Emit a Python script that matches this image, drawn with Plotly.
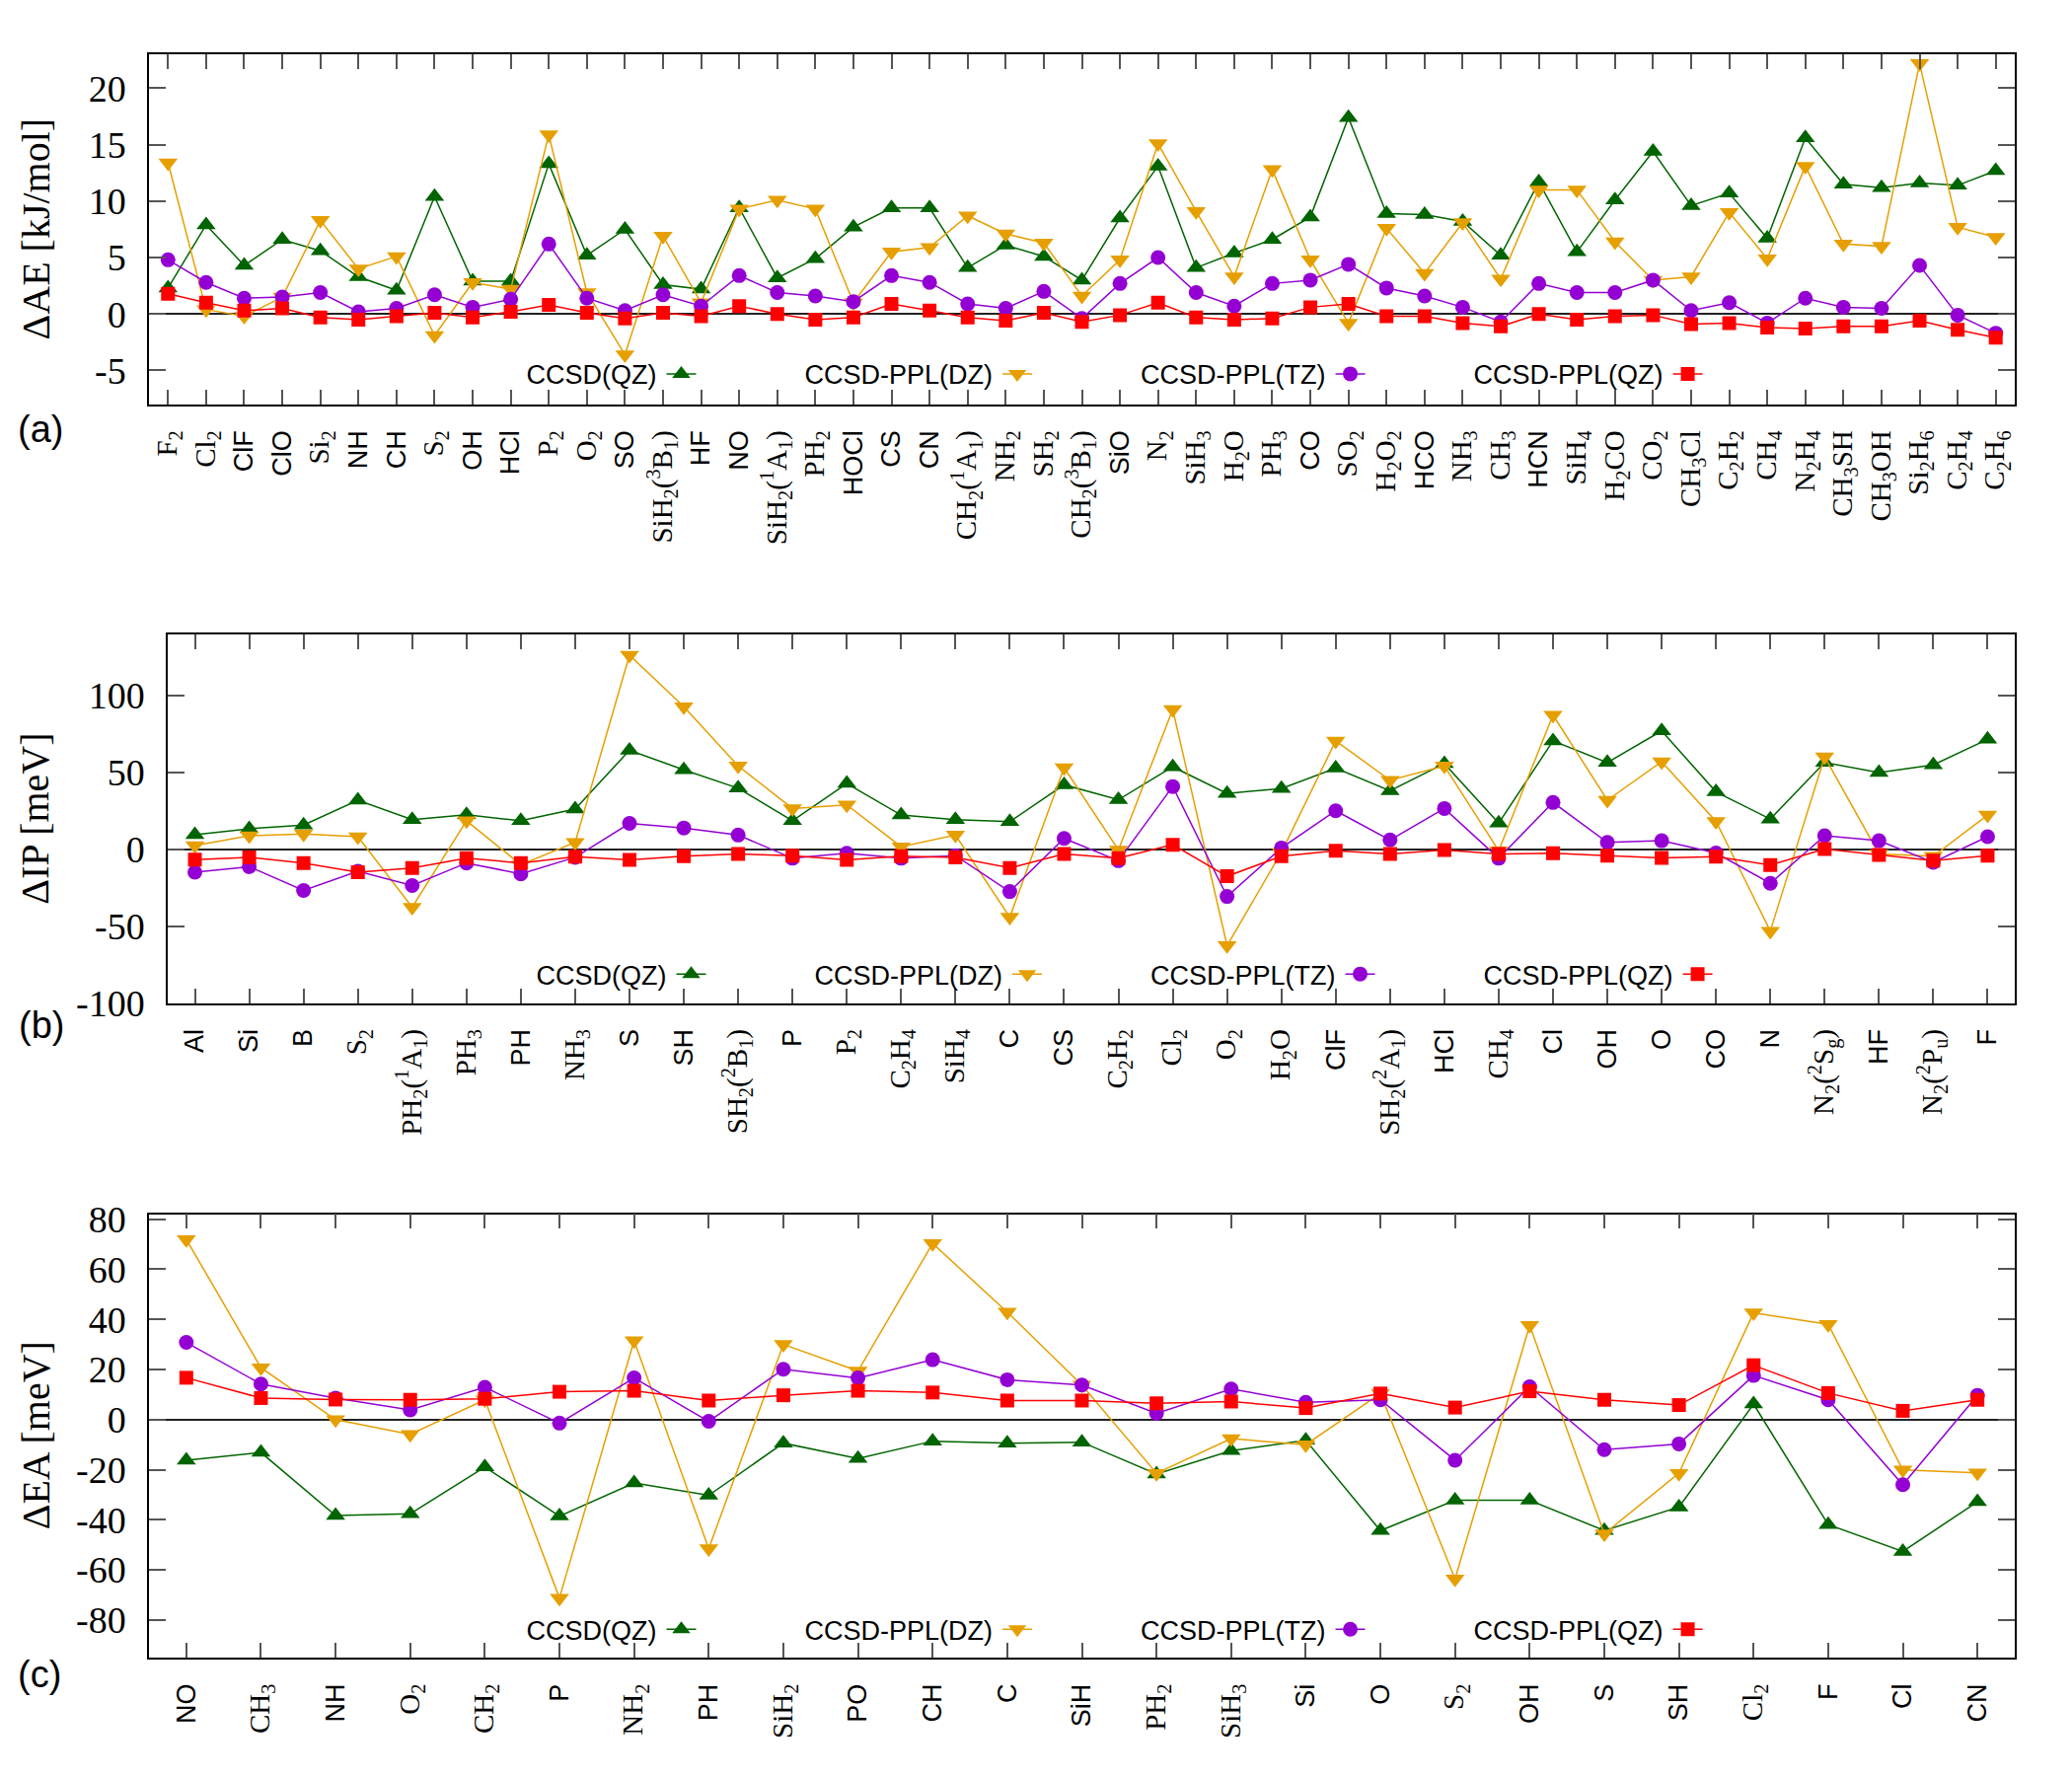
import re
import plotly.graph_objects as go

SANS = "Liberation Sans"
SERIF = "Liberation Serif"

series_names = ["CCSD(QZ)", "CCSD-PPL(DZ)", "CCSD-PPL(TZ)", "CCSD-PPL(QZ)"]
colors = ["#006400", "#E69F00", "#9400D3", "#FF0000"]
symbols = ["triangle-up", "triangle-down", "circle", "square"]
msizes = [17, 17, 15, 14]

# ---------------- (a) atomization energies ----------------
ae_labels = ["F_2", "Cl_2", "ClF", "ClO", "Si_2", "NH", "CH", "S_2", "OH", "HCl",
             "P_2", "O_2", "SO", "SiH_2(^3B_1)", "HF", "NO", "SiH_2(^1A_1)", "PH_2", "HOCl", "CS",
             "CN", "CH_2(^1A_1)", "NH_2", "SH_2", "CH_2(^3B_1)", "SiO", "N_2", "SiH_3", "H_2O", "PH_3",
             "CO", "SO_2", "H_2O_2", "HCO", "NH_3", "CH_3", "HCN", "SiH_4", "H_2CO", "CO_2",
             "CH_3Cl", "C_2H_2", "CH_4", "N_2H_4", "CH_3SH", "CH_3OH", "Si_2H_6", "C_2H_4", "C_2H_6"]
ae_ccsd_qz = [2.3, 7.9, 4.3, 6.6, 5.6, 3.3, 2.1, 10.4, 2.9, 2.9,
              13.3, 5.2, 7.5, 2.6, 2.2, 9.4, 3.2, 4.9, 7.7, 9.4,
              9.4, 4.1, 6.1, 5.1, 3.0, 8.5, 13.1, 4.1, 5.4, 6.6,
              8.6, 17.4, 8.9, 8.8, 8.2, 5.2, 11.7, 5.5, 10.1, 14.4,
              9.6, 10.7, 6.7, 15.6, 11.5, 11.2, 11.6, 11.4, 12.7]
ae_ppl_dz = [13.4, 0.4, -0.2, 1.5, 8.3, 4.0, 5.1, -1.9, 2.8, 2.2,
             15.9, 1.9, -3.6, 6.9, 1.0, 9.3, 10.1, 9.3, 1.0, 5.5,
             5.9, 8.7, 7.1, 6.3, 1.6, 4.8, 15.1, 9.1, 3.3, 12.8,
             4.8, -0.8, 7.6, 3.6, 8.1, 3.1, 11.0, 11.0, 6.4, 3.0,
             3.3, 9.0, 4.9, 13.1, 6.2, 6.0, 22.2, 7.7, 6.8]
ae_ppl_tz = [4.8, 2.8, 1.4, 1.5, 1.9, 0.2, 0.5, 1.7, 0.6, 1.3,
             6.2, 1.4, 0.3, 1.7, 0.7, 3.4, 1.9, 1.6, 1.1, 3.4,
             2.8, 0.9, 0.5, 2.0, -0.4, 2.7, 5.0, 1.9, 0.7, 2.7,
             3.0, 4.4, 2.3, 1.6, 0.6, -0.7, 2.7, 1.9, 1.9, 3.0,
             0.3, 1.0, -0.8, 1.4, 0.6, 0.5, 4.3, -0.1, -1.7]
ae_ppl_qz = [1.8, 1.0, 0.3, 0.5, -0.3, -0.5, -0.2, 0.1, -0.3, 0.2,
             0.8, 0.1, -0.4, 0.1, -0.2, 0.7, 0.0, -0.5, -0.3, 0.9,
             0.3, -0.3, -0.6, 0.1, -0.7, -0.1, 1.0, -0.3, -0.5, -0.4,
             0.6, 0.9, -0.2, -0.2, -0.8, -1.1, 0.0, -0.5, -0.2, -0.1,
             -0.9, -0.8, -1.2, -1.3, -1.1, -1.1, -0.6, -1.4, -2.1]
ae_yticks = [-5, 0, 5, 10, 15, 20]

# ---------------- (b) ionization potentials ----------------
ip_labels = ["Al", "Si", "B", "S_2", "PH_2(^1A_1)", "PH_3", "PH", "NH_3", "S", "SH",
             "SH_2(^2B_1)", "P", "P_2", "C_2H_4", "SiH_4", "C", "CS", "C_2H_2", "Cl_2", "O_2",
             "H_2O", "ClF", "SH_2(^2A_1)", "HCl", "CH_4", "Cl", "OH", "O", "CO", "N",
             "N_2(^2S_g)", "HF", "N_2(^2P_u)", "F"]
ip_ccsd_qz = [9.5, 13.4, 15.8, 32.0, 19.3, 22.5, 18.6, 26.2, 64.5, 51.7,
              39.8, 18.6, 42.9, 22.3, 19.3, 18.0, 42.0, 32.3, 53.7, 36.4,
              39.6, 52.8, 38.1, 55.8, 17.1, 70.6, 56.5, 77.1, 37.4, 19.7,
              56.5, 50.0, 55.0, 71.6]
ip_ppl_dz = [2.4, 8.9, 10.0, 8.2, -37.7, 18.6, -10.0, 4.5, 126.4, 92.9,
             54.3, 26.6, 29.0, 1.7, 9.3, -44.2, 53.2, -0.4, 91.1, -62.6,
             -2.0, 70.6, 45.0, 54.3, -0.9, 87.4, 32.0, 57.1, 18.2, -53.2,
             60.2, -3.0, -4.5, 22.3]
ip_ppl_tz = [-14.9, -11.3, -26.8, -14.3, -23.6, -8.9, -16.0, -5.2, 16.9, 13.9,
             9.3, -5.8, -2.6, -5.8, -4.1, -27.5, 7.1, -7.4, 40.9, -30.7,
             0.9, 25.1, 6.1, 26.6, -5.8, 30.5, 4.5, 5.6, -2.4, -22.1,
             8.9, 5.6, -8.4, 8.2]
ip_ppl_qz = [-6.7, -5.2, -8.9, -14.9, -12.1, -5.8, -8.9, -4.8, -6.9, -4.5,
             -3.0, -4.1, -6.9, -4.5, -5.2, -12.1, -3.0, -5.8, 3.0, -17.5,
             -4.5, -0.9, -3.0, -0.4, -3.0, -2.6, -4.1, -5.6, -4.8, -10.2,
             0.2, -3.7, -7.4, -4.1]
ip_yticks = [-100, -50, 0, 50, 100]

# ---------------- (c) electron affinities ----------------
ea_labels = ["NO", "CH_3", "NH", "O_2", "CH_2", "P", "NH_2", "PH", "SiH_2", "PO",
             "CH", "C", "SiH", "PH_2", "SiH_3", "Si", "O", "S_2", "OH", "S",
             "SH", "Cl_2", "F", "Cl", "CN"]
ea_ccsd_qz = [-16.2, -13.1, -38.3, -37.6, -18.9, -38.5, -25.3, -30.2, -9.4, -15.5,
              -8.6, -9.4, -9.0, -21.7, -12.4, -8.3, -44.3, -32.2, -32.2, -44.3,
              -34.9, 6.2, -41.9, -52.6, -32.8]
ea_ppl_dz = [71.9, 20.7, 0.0, -5.9, 7.9, -71.2, 31.5, -51.5, 30.0, 19.4,
             70.3, 42.9, 13.8, -21.4, -7.6, -10.0, 10.4, -63.6, 37.6, -45.6,
             -21.4, 42.6, 38.0, -20.1, -21.2]
ea_ppl_tz = [30.8, 14.2, 8.6, 3.9, 12.9, -1.4, 16.6, -0.7, 20.1, 16.6,
             23.9, 15.9, 13.8, 2.5, 12.2, 6.9, 7.9, -16.2, 13.1, -12.0,
             -9.7, 17.6, 7.9, -26.0, 9.7]
ea_ppl_qz = [16.7, 8.6, 8.0, 7.9, 8.3, 11.1, 11.5, 7.6, 9.7, 11.5,
             10.8, 7.6, 7.6, 6.5, 7.2, 4.6, 10.4, 4.8, 11.3, 7.9,
             5.8, 21.7, 10.6, 3.5, 7.9]
ea_yticks = [-80, -60, -40, -20, 0, 20, 40, 60, 80]


def fmt(lbl):
    html = re.sub(r"_(\w)", r"<sub>\1</sub>", lbl)
    html = re.sub(r"\^(\w)", r"<sup>\1</sup>", html)
    if html != lbl:
        return f'<span style="font-family:{SERIF};font-size:29px">{html}</span>'
    return html


W, H = 2100, 1800
panels = [
    dict(labels=ae_labels, data=[ae_ccsd_qz, ae_ppl_dz, ae_ppl_tz, ae_ppl_qz], yticks=ae_yticks,
         yrange=[-8, 23], x0=151, x1=2042, top=40, bot=402, title="ΔAE [kJ/mol]",
         tag="(a)", tagxy=(41, 428), legy=371, legx=1145),
    dict(labels=ip_labels, data=[ip_ccsd_qz, ip_ppl_dz, ip_ppl_tz, ip_ppl_qz], yticks=ip_yticks,
         yrange=[-100, 140], x0=170, x1=2042, top=640, bot=1021.5, title="ΔIP [meV]",
         tag="(b)", tagxy=(42, 1044), legy=992, legx=1155),
    dict(labels=ea_labels, data=[ea_ccsd_qz, ea_ppl_dz, ea_ppl_tz, ea_ppl_qz], yticks=ea_yticks,
         yrange=[-95, 82], x0=151, x1=2042, top=1240, bot=1699, title="ΔEA [meV]",
         tag="(c)", tagxy=(40, 1716), legy=1670, legx=1145),
]

SAMPLE_NAME = "\u00a0" * 8

fig = go.Figure()
annotations = []
layout = dict(width=W, height=H, margin=dict(l=0, r=0, t=0, b=0), autosize=False,
              paper_bgcolor="white", plot_bgcolor="white", showlegend=True)

for i, p in enumerate(panels, start=1):
    sfx = "" if i == 1 else str(i)
    xa, ya = "x" + sfx, "y" + sfx
    leg = "legend" + sfx
    xs = [fmt(l) for l in p["labels"]]
    for k in range(4):
        # legend text entry first, then the sample (gnuplot key style)
        fig.add_trace(go.Scatter(x=[None], y=[None], mode="lines", name=series_names[k],
                                 line=dict(color="rgba(0,0,0,0)", width=0),
                                 xaxis=xa, yaxis=ya, legend=leg, hoverinfo="skip"))
        fig.add_trace(go.Scatter(x=xs, y=p["data"][k], mode="lines+markers", name=SAMPLE_NAME,
                                 line=dict(color=colors[k], width=1.5),
                                 marker=dict(symbol=symbols[k], size=msizes[k], color=colors[k],
                                             line=dict(width=0)),
                                 xaxis=xa, yaxis=ya, legend=leg))
    n = len(p["labels"])
    layout["xaxis" + sfx] = dict(
        domain=[p["x0"] / W, p["x1"] / W], anchor=ya, type="category",
        range=[-0.5, n - 0.5], tickmode="linear", tick0=0, dtick=1, tickangle=-90,
        ticks="inside", ticklen=15, tickwidth=1.5, tickcolor="#555",
        showline=True, linecolor="black", linewidth=1.5, mirror="allticks",
        showgrid=False, zeroline=False, ticklabelstandoff=14,
        tickfont=dict(family=SANS, size=27, color="black"))
    layout["yaxis" + sfx] = dict(
        domain=[1 - p["bot"] / H, 1 - p["top"] / H], anchor=xa,
        range=p["yrange"], tickmode="array", tickvals=p["yticks"],
        ticktext=[str(v) for v in p["yticks"]],
        ticks="inside", ticklen=17, tickwidth=1.5, tickcolor="#555",
        showline=True, linecolor="black", linewidth=1.5, mirror="allticks",
        showgrid=False, zeroline=True, zerolinecolor="#222", zerolinewidth=1.6,
        ticklabelstandoff=14,
        tickfont=dict(family=SERIF, size=38, color="black"))
    layout[leg] = dict(orientation="h", x=p["legx"] / W, y=1 - p["legy"] / H,
                       xanchor="center", yanchor="middle", bgcolor="rgba(0,0,0,0)",
                       font=dict(family=SANS, size=27, color="black"))
    annotations.append(dict(text=p["title"], xref="paper", yref="paper", x=36 / W,
                            y=1 - (p["top"] + p["bot"]) / 2 / H, textangle=-90,
                            xanchor="center", yanchor="middle", showarrow=False,
                            font=dict(family=SERIF, size=40, color="black")))
    annotations.append(dict(text=p["tag"], xref="paper", yref="paper", x=p["tagxy"][0] / W,
                            y=1 - p["tagxy"][1] / H, xanchor="center", yanchor="middle",
                            showarrow=False, font=dict(family=SANS, size=38, color="black")))

layout["annotations"] = annotations
fig.update_layout(**layout)
fig.write_html("out.html")
